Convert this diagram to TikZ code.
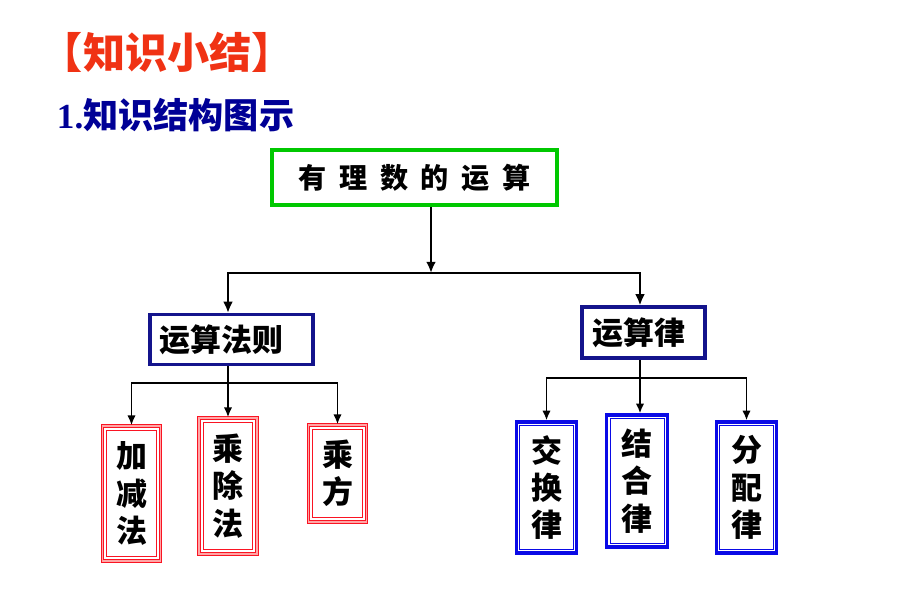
\documentclass[tikz,border=0pt]{standalone}
\usepackage{fontspec}
\newfontfamily\cjk{Noto Sans CJK SC}
\newfontfamily\romanbf{Liberation Serif}
\usetikzlibrary{positioning,arrows.meta}
\definecolor{titlered}{RGB}{240,50,20}
\definecolor{titleblue}{RGB}{0,0,150}
\definecolor{rootgreen}{RGB}{0,200,0}
\definecolor{navybox}{RGB}{20,20,140}
\definecolor{redbox}{RGB}{250,20,35}
\definecolor{bluebox}{RGB}{10,10,230}

\begin{document}
\begin{tikzpicture}[x=0.025cm, y=-0.025cm,
    rootnode/.style={draw=rootgreen, line width=2.6pt, fill=white, inner sep=0pt, font=\cjk\bfseries\fontsize{20}{24}\selectfont},
    midnode/.style={draw=navybox, line width=2.2pt, fill=white, inner sep=0pt, font=\cjk\bfseries\fontsize{22}{26}\selectfont},
    rulenode/.style={draw=redbox, line width=1pt, double=red!35, double distance=0.8pt, fill=white, inner sep=0pt, minimum width=1.45cm, align=center, font=\cjk\bfseries\fontsize{22}{26.5}\selectfont,
        path picture={\draw[redbox, line width=0.6pt] ([shift={(3pt,-3pt)}]path picture bounding box.north west) rectangle ([shift={(-3pt,3pt)}]path picture bounding box.south east);}},
    lawnode/.style={draw=bluebox, line width=2.2pt, fill=white, inner sep=0pt, minimum width=1.52cm, align=center, font=\cjk\bfseries\fontsize{22}{26.5}\selectfont,
        path picture={\draw[bluebox, line width=0.6pt] ([shift={(2.4pt,-2.4pt)}]path picture bounding box.north west) rectangle ([shift={(-2.4pt,2.4pt)}]path picture bounding box.south east);}},
    link/.style={black, line width=1.4pt},
    tip/.style={-{Latex[length=7pt,width=6pt]}}]
    \useasboundingbox (0,0) rectangle (920,614);

    % headings
    \node[anchor=west, text=titlered, font=\cjk\bfseries\fontsize{30}{34}\selectfont] (title) at (36,52) {【知识小结】};
    \node[anchor=west, text=titleblue, font=\bfseries\fontsize{25}{30}\selectfont] (subtitle) at (52,115) {{\romanbf 1.}\cjk 知识结构图示};

    % boxes
    \node[rootnode, minimum width=7.125cm, minimum height=1.375cm] (root) at (414.5,177.5) {有\hspace{0.45em}理\hspace{0.45em}数\hspace{0.45em}的\hspace{0.45em}运\hspace{0.45em}算};
    \node[midnode, minimum width=4.075cm, minimum height=1.25cm] (rules) at (231.5,339.5) {运算法则\hspace*{14pt}};
    \node[midnode, minimum width=3.075cm, minimum height=1.275cm] (laws) at (643.5,332.5) {运算律\hspace*{7pt}};

    \node[rulenode, minimum height=3.375cm] (addsub) at (131.5,493.5) {加\\减\\法};
    \node[rulenode, minimum height=3.4cm] (muldiv) at (228,486) {乘\\除\\法};
    \node[rulenode, minimum height=2.425cm] (power) at (337.5,473.5) {乘\\方};

    \node[lawnode, minimum height=3.275cm] (commute) at (546.5,487.5) {交\\换\\律};
    \node[lawnode, minimum height=3.3cm] (assoc) at (637,481) {结\\合\\律};
    \node[lawnode, minimum height=3.275cm] (distrib) at (746.5,487.5) {分\\配\\律};

    % connectors
    \coordinate (split) at (431,273);
    \coordinate (rulesplit) at (228,383);
    \coordinate (lawsplit) at (640,378);

    \draw[link, line width=2pt, -{Latex[length=8pt,width=7pt]}] (root.south -| split) -- (split);
    \draw[link, line width=2pt, -{Latex[length=8pt,width=7pt]}] (split) -| (rules.north -| rulesplit);
    \draw[link, line width=2pt, -{Latex[length=8pt,width=7pt]}] (split) -| (laws.north -| lawsplit);

    \draw[link] (rules.south -| rulesplit) -- (rulesplit);
    \draw[link, tip] (rulesplit) -| (addsub.north);
    \draw[link, tip] (rulesplit) -- (muldiv.north);
    \draw[link, tip] (rulesplit) -| (power.north);

    \draw[link] (laws.south -| lawsplit) -- (lawsplit);
    \draw[link, tip] (lawsplit) -| (commute.north);
    \draw[link, tip] (lawsplit) -- (assoc.north -| lawsplit);
    \draw[link, tip] (lawsplit) -| (distrib.north);
\end{tikzpicture}
\end{document}
